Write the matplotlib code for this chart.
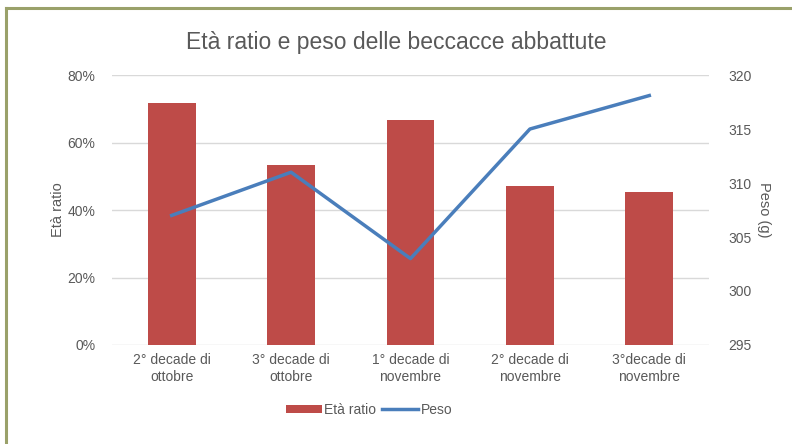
import matplotlib
matplotlib.use('Agg')
import matplotlib.pyplot as plt
from matplotlib.lines import Line2D
from matplotlib.ticker import FuncFormatter

plt.rcParams['font.family'] = ['Liberation Sans', 'DejaVu Sans']

# ------------------------------------------------------------------ data
categories = ['2° decade di\nottobre', '3° decade di\nottobre', '1° decade di\nnovembre',
              '2° decade di\nnovembre', '3°decade di\nnovembre']
eta_ratio = [0.717, 0.532, 0.668, 0.471, 0.453]
peso = [307.0, 311.0, 303.0, 315.0, 318.1]

BAR_C = '#be4b48'
LINE_C = '#4a7ebb'
TXT_C = '#595959'
GRID_C = '#d9d9d9'

fig = plt.figure(figsize=(7.92, 4.44), dpi=100)
ax = fig.add_axes([0.1414, 0.223, 0.7538, 0.608])
x = list(range(len(categories)))
bars = ax.bar(x, eta_ratio, width=0.4, color=BAR_C, zorder=2, label='Età ratio')
ax.set_ylim(0, 0.8)
ax.set_xlim(-0.5, len(categories) - 0.5)
ax.set_yticks([0, 0.2, 0.4, 0.6, 0.8])
ax.yaxis.set_major_formatter(FuncFormatter(lambda v, _: f'{v*100:.0f}%'))
ax.grid(axis='y', color=GRID_C, lw=1, zorder=0)
ax.set_xticks(x)
ax.set_xticklabels(categories)
for s in ax.spines.values():
    s.set_visible(False)
ax.tick_params(length=0, colors=TXT_C, labelsize=10)
ax.tick_params(axis='y', pad=12)
ax.tick_params(axis='x', pad=6)
ax.set_ylabel('Età ratio', color=TXT_C, fontsize=10.5, labelpad=2)

ax2 = ax.twinx()
line, = ax2.plot(x, peso, color=LINE_C, lw=2.5, zorder=3, label='Peso')
ax2.set_ylim(295, 320)
ax2.set_yticks([295, 300, 305, 310, 315, 320])
for s in ax2.spines.values():
    s.set_visible(False)
ax2.tick_params(length=0, colors=TXT_C, labelsize=10, pad=14)
ax2.set_ylabel('Peso (g)', color=TXT_C, fontsize=10.5, rotation=270, labelpad=14)

fig.suptitle('Età ratio e peso delle beccacce abbattute', y=0.93, fontsize=16.5, color=TXT_C)

fig.legend([bars, line], ['Età ratio', 'Peso'], loc='center', bbox_to_anchor=(0.466, 0.077),
           ncol=2, frameon=False, fontsize=10, labelcolor=TXT_C,
           handlelength=2.6, handleheight=0.45, handletextpad=0.2, columnspacing=0.4)

# olive frame on top and left
fig.add_artist(Line2D([5.5/792, 1], [1 - 8.5/444] * 2, color='#9aa16a', lw=2.2))
fig.add_artist(Line2D([5.5/792] * 2, [0, 1 - 8.5/444], color='#9aa16a', lw=2.2))

fig.savefig('out.png', dpi=100)
